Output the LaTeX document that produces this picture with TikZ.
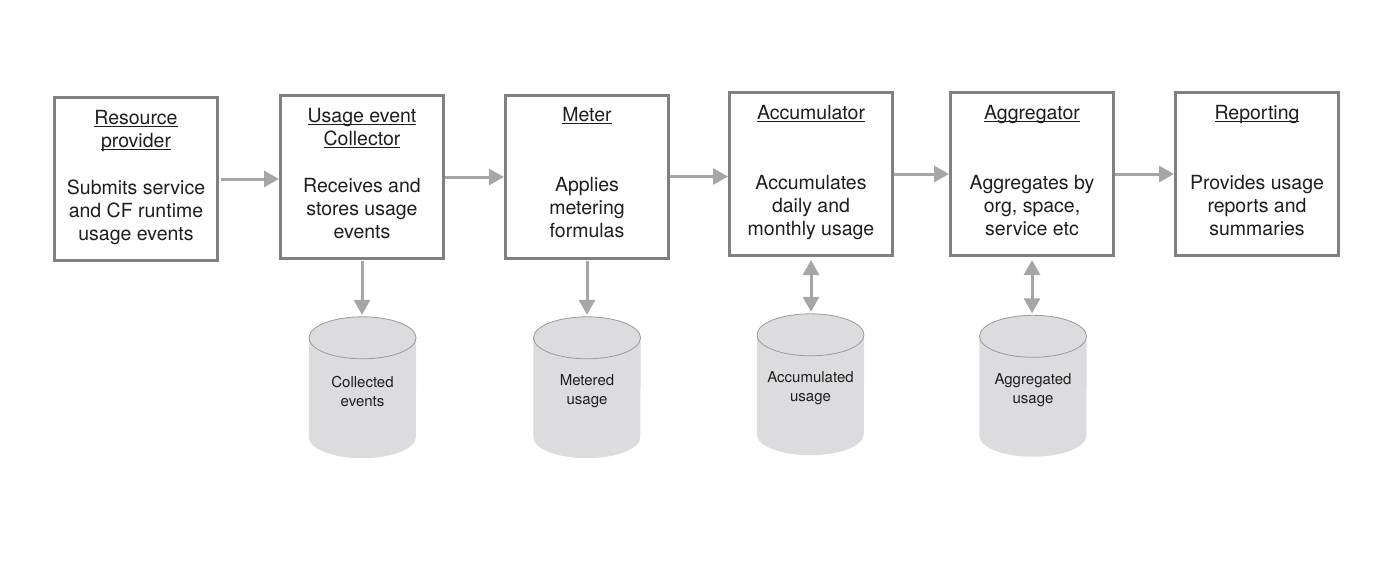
\documentclass[tikz,border=0pt]{standalone}
\usepackage{fontspec}
\setmainfont{TeX Gyre Heros}
\usepackage{xcolor}
\usepackage{tikz}
\usetikzlibrary{arrows.meta}
\usetikzlibrary{calc}
\usetikzlibrary{backgrounds}

\definecolor{boxgray}{HTML}{808080}
\definecolor{flowgray}{HTML}{A6A6A6}
\definecolor{storefill}{HTML}{DCDCDE}
\definecolor{storeline}{HTML}{9A9A9A}
\definecolor{textdark}{HTML}{1E1E1E}

% underlined title word
\newcommand{\titleline}[1]{\setbox0\hbox{#1}\rlap{\rule[-2.8pt]{\wd0}{0.9pt}}\box0}

\begin{document}
\begin{tikzpicture}[x=1pt,y=-1pt,
    stage/.style={draw=boxgray,line width=3pt,fill=white,minimum width=163pt,minimum height=163pt,inner sep=0pt},
    caption/.style={font=\fontsize{19.5}{23}\selectfont,align=center,anchor=base,inner sep=0pt,text=textdark},
    store/.style={minimum width=107pt,minimum height=141pt,inner sep=0pt},
    storetext/.style={align=center,inner sep=0pt,font=\fontsize{15}{19}\selectfont,text=textdark},
    flow/.style={draw=flowgray,line width=3pt,-{Triangle[length=15pt,width=16pt]}},
    flowboth/.style={draw=flowgray,line width=3pt,{Triangle[length=15pt,width=16pt]}-{Triangle[length=15pt,width=16pt]}}]
    \useasboundingbox (0,0) rectangle (1394,560);

    % stages (base = last line)
    \node[stage] (provider) at (136,179) {};
    \node[caption] (provider-title) at ($(provider.north)+(0,51)$) {\titleline{Resource}\\\titleline{provider}};
    \node[caption] (provider-text) at ($(provider.north)+(0,144)$) {Submits service\\and CF runtime\\usage events};

    \node[stage] (collector) at (362,177) {};
    \node[caption] (collector-title) at ($(collector.north)+(0,51)$) {\titleline{Usage event}\\\titleline{Collector}};
    \node[caption] (collector-text) at ($(collector.north)+(0,144)$) {Receives and\\stores usage\\events};

    \node[stage] (meter) at (587,176.5) {};
    \node[caption] (meter-title) at ($(meter.north)+(0,28)$) {\titleline{Meter}};
    \node[caption] (meter-text) at ($(meter.north)+(0,144)$) {Applies\\metering\\formulas};

    \node[stage] (accum) at (811,174) {};
    \node[caption] (accum-title) at ($(accum.north)+(0,28)$) {\titleline{Accumulator}};
    \node[caption] (accum-text) at ($(accum.north)+(0,144)$) {Accumulates\\daily and\\monthly usage};

    \node[stage] (aggr) at (1032,174) {};
    \node[caption] (aggr-title) at ($(aggr.north)+(0,28)$) {\titleline{Aggregator}};
    \node[caption] (aggr-text) at ($(aggr.north)+(0,144)$) {Aggregates by\\org, space,\\service etc};

    \node[stage] (report) at (1257,174) {};
    \node[caption] (report-title) at ($(report.north)+(0,28)$) {\titleline{Reporting}};
    \node[caption] (report-text) at ($(report.north)+(0,144)$) {Provides usage\\reports and\\summaries};

    % stores
    \node[store] (collected) at (362.5,387.5) {};
    \node[storetext] (collected-text) at ($(collected)+(0,4)$) {Collected\\events};
    \node[store] (metered) at (587,387.5) {};
    \node[storetext] (metered-text) at ($(metered)+(0,4)$) {Metered\\usage};
    \node[store] (accumulated) at (810.5,384.5) {};
    \node[storetext] (accumulated-text) at ($(accumulated)+(0,4)$) {Accumulated\\usage};
    \node[store] (aggregated) at (1033,386) {};
    \node[storetext] (aggregated-text) at ($(aggregated)+(0,4)$) {Aggregated\\usage};

    \begin{scope}[on background layer]
        \fill[storefill] ([yshift=-21pt]collected.north west) -- ([yshift=21pt]collected.south west) arc[start angle=180,end angle=360,x radius=53.5pt,y radius=21pt] -- ([yshift=-21pt]collected.north east) arc[start angle=0,end angle=180,x radius=53.5pt,y radius=21pt] -- cycle;
        \draw[storeline,line width=0.8pt] ([yshift=-21pt]collected.north) ellipse[x radius=53.5pt,y radius=21pt];

        \fill[storefill] ([yshift=-21pt]metered.north west) -- ([yshift=21pt]metered.south west) arc[start angle=180,end angle=360,x radius=53.5pt,y radius=21pt] -- ([yshift=-21pt]metered.north east) arc[start angle=0,end angle=180,x radius=53.5pt,y radius=21pt] -- cycle;
        \draw[storeline,line width=0.8pt] ([yshift=-21pt]metered.north) ellipse[x radius=53.5pt,y radius=21pt];

        \fill[storefill] ([yshift=-21pt]accumulated.north west) -- ([yshift=21pt]accumulated.south west) arc[start angle=180,end angle=360,x radius=53.5pt,y radius=21pt] -- ([yshift=-21pt]accumulated.north east) arc[start angle=0,end angle=180,x radius=53.5pt,y radius=21pt] -- cycle;
        \draw[storeline,line width=0.8pt] ([yshift=-21pt]accumulated.north) ellipse[x radius=53.5pt,y radius=21pt];

        \fill[storefill] ([yshift=-21pt]aggregated.north west) -- ([yshift=21pt]aggregated.south west) arc[start angle=180,end angle=360,x radius=53.5pt,y radius=21pt] -- ([yshift=-21pt]aggregated.north east) arc[start angle=0,end angle=180,x radius=53.5pt,y radius=21pt] -- cycle;
        \draw[storeline,line width=0.8pt] ([yshift=-21pt]aggregated.north) ellipse[x radius=53.5pt,y radius=21pt];
    \end{scope}

    % pipeline
    \draw[flow,shorten <=2pt] (provider.east) -- (provider.east -| collector.west);
    \draw[flow] (collector.east) -- (collector.east -| meter.west);
    \draw[flow] (meter.east) -- (meter.east -| accum.west);
    \draw[flow] (accum.east) -- (accum.east -| aggr.west);
    \draw[flow] (aggr.east) -- (aggr.east -| report.west);

    % storage links
    \draw[flow,shorten <=1pt,shorten >=2pt] (collector.south) -- (collector.south |- collected.north);
    \draw[flow,shorten <=1pt,shorten >=2pt] (meter.south) -- (meter.south |- metered.north);
    \draw[flowboth,shorten <=3pt,shorten >=2pt] (accum.south) -- (accum.south |- accumulated.north);
    \draw[flowboth,shorten <=3pt,shorten >=2pt] (aggr.south) -- (aggr.south |- aggregated.north);
\end{tikzpicture}
\end{document}
